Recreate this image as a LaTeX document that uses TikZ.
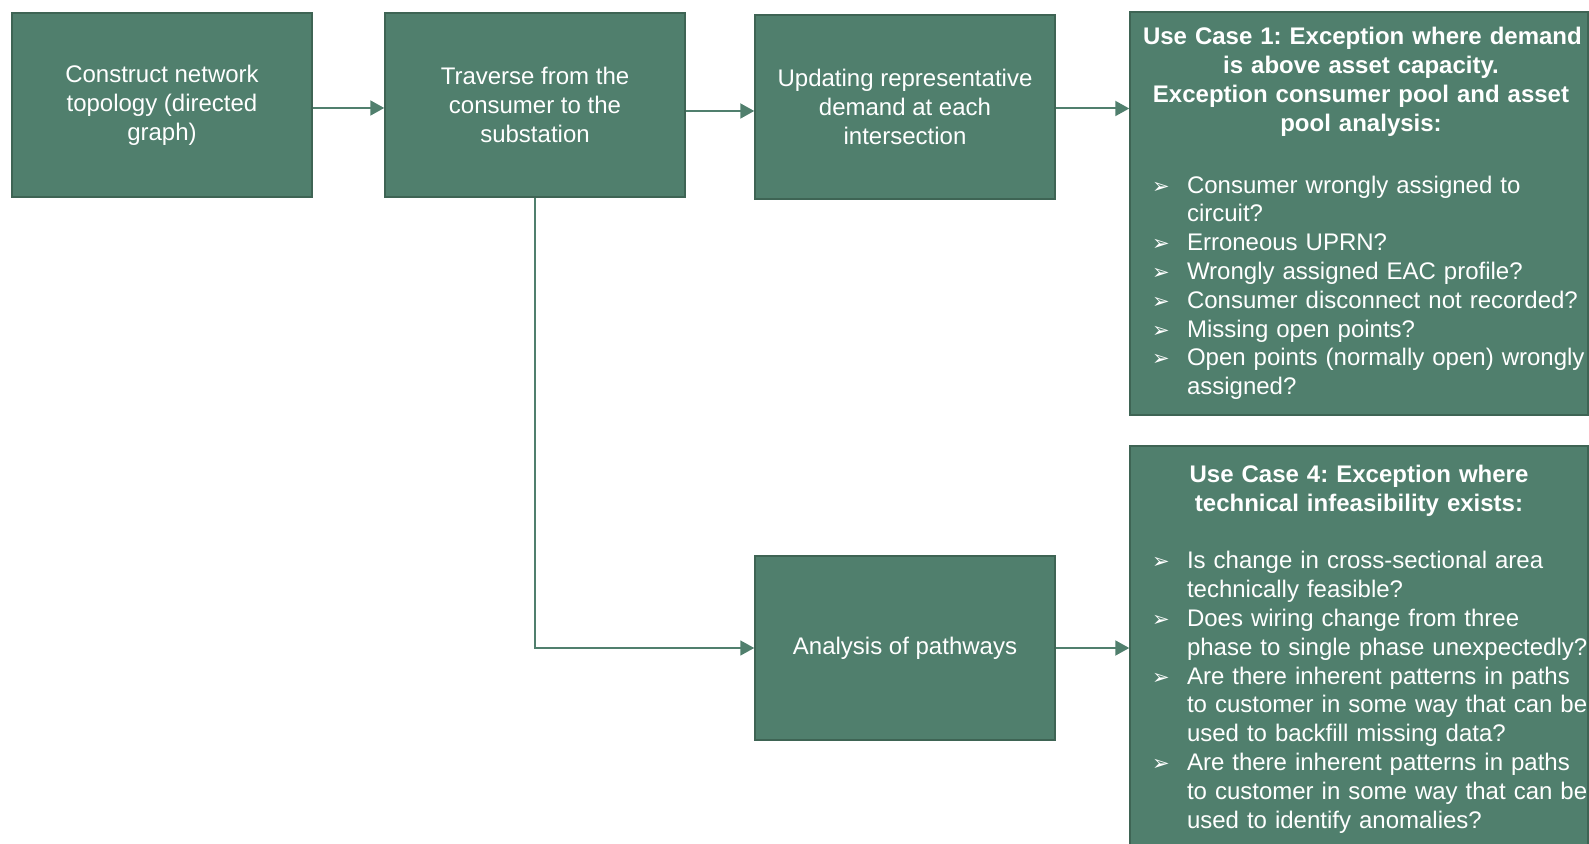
\documentclass[tikz,border=0pt]{standalone}
\usepackage{fontspec}
\setmainfont{Liberation Sans}
\newfontfamily\dingfont{DejaVu Sans}
\usetikzlibrary{arrows.meta,positioning,calc}
\frenchspacing

\definecolor{boxgreen}{RGB}{80,127,109}
\definecolor{boxedge}{RGB}{62,100,84}
\definecolor{linegreen}{RGB}{80,127,109}

% bullet line and continuation line for the use case boxes
\newcommand{\bul}[1]{\par\noindent\hspace*{6.5pt}\makebox[17.5pt][l]{\dingfont\fontsize{10.5}{10.5}\selectfont\char"27A2}\mbox{#1}}
\newcommand{\cnt}[1]{\par\noindent\hspace*{24pt}\mbox{#1}}

\tikzset{
  stepbox/.style={draw=boxedge,line width=0.75pt,fill=boxgreen,text=white,minimum width=150pt,minimum height=92pt,align=center,inner sep=0pt,font=\fontsize{12}{14.4}\selectfont},
  casebox/.style={draw=boxedge,line width=0.75pt,fill=boxgreen,text=white,text width=220pt,align=left,inner xsep=4.5pt,inner ysep=0pt,font=\fontsize{12}{14.4}\selectfont},
  flow/.style={draw=linegreen,line width=1pt,-{Triangle[length=7pt,width=7.5pt]}}
}

\begin{document}
\begin{tikzpicture}[x=0.5pt,y=-0.5pt]
            \clip (0,0) rectangle (1589,844);

            % Top row steps
            \node[stepbox] (construct) at (162,105) {Construct network\\topology (directed\\graph)};
            \node[stepbox] (traverse) at (535,105) {Traverse from the\\consumer to the\\substation};
            \node[stepbox] (update) at (905,107) {Updating representative\\demand at each\\intersection};

            % Lower step
            \node[stepbox] (pathways) at (905,648) {Analysis of pathways};

            % Use case boxes
            \node[casebox,minimum height=201.5pt] (case1) at (1359,213.5) {%
              {\centering\leftskip=2pt plus 1fil\bfseries\noindent\mbox{Use Case 1: Exception where demand}\\is above asset capacity.\\Exception consumer pool and asset\\pool analysis:\par}
              \vspace{16.6pt}
              \bul{Consumer wrongly assigned to}
              \cnt{circuit?}
              \bul{Erroneous UPRN?}
              \bul{Wrongly assigned EAC profile?}
              \bul{Consumer disconnect not recorded?}
              \bul{Missing open points?}
              \bul{Open points (normally open) wrongly}
              \cnt{assigned?}};
            \node[casebox,minimum height=203pt] (case4) at (1359,649) {%
              {\centering\bfseries\noindent Use Case 4: Exception where\\technical infeasibility exists:\par}
              \vspace{14.4pt}
              \bul{Is change in cross-sectional area}
              \cnt{technically feasible?}
              \bul{Does wiring change from three}
              \cnt{phase to single phase unexpectedly?}
              \bul{Are there inherent patterns in paths}
              \cnt{to customer in some way that can be}
              \cnt{used to backfill missing data?}
              \bul{Are there inherent patterns in paths}
              \cnt{to customer in some way that can be}
              \cnt{used to identify anomalies?}};

            % Arrows along the top row
            \draw[flow] ([yshift=-1.5pt]construct.east) -- ([yshift=-1.5pt]construct.east -| traverse.west);
            \draw[flow] ([yshift=-3pt]traverse.east) -- ([yshift=-3pt]traverse.east -| update.west);
            \draw[flow] ([yshift=-0.75pt]update.east) -- ([yshift=-0.75pt]update.east -| case1.west);

            % Branch down to the pathways
            \draw[flow,line width=0.8pt] (traverse.south) |- (pathways.west);
            \draw[flow] (pathways.east) -- (pathways.east -| case4.west);
\end{tikzpicture}
\end{document}
